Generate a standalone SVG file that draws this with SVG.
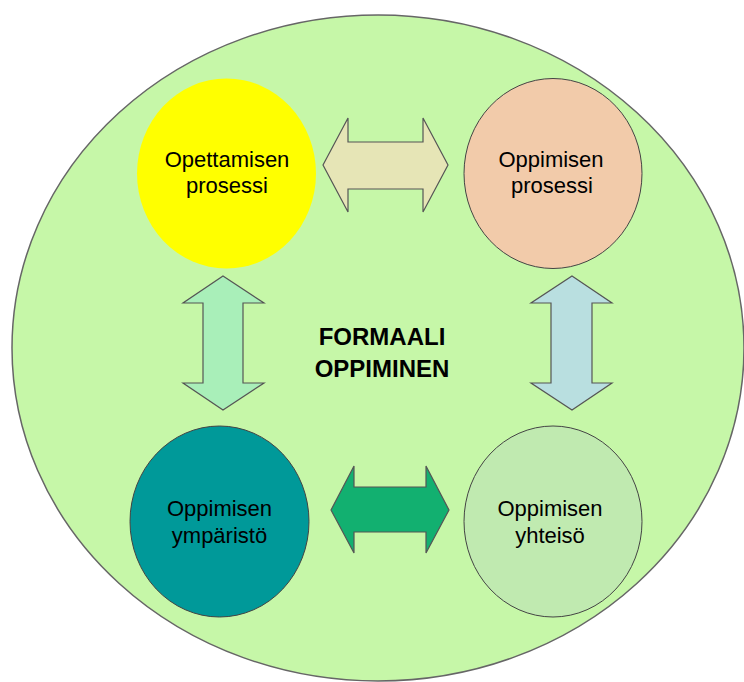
<svg xmlns="http://www.w3.org/2000/svg" width="744" height="682" viewBox="0 0 744 682">
<style>
.lbl{font-family:"Liberation Sans",Arial,sans-serif;font-size:22px;fill:#000;text-anchor:middle}
.title{font-family:"Liberation Sans",Arial,sans-serif;font-size:24px;font-weight:bold;fill:#000;text-anchor:middle}
.node{stroke:#444;stroke-width:1}
.arrow{stroke:#555;stroke-width:1.2;stroke-linejoin:miter}
</style>
<rect width="744" height="682" fill="#ffffff"/>
<g id="background">
<ellipse cx="378" cy="348" rx="366" ry="333" fill="#c6f7a8" stroke="#666" stroke-width="1.5"/>
<text class="title" x="382" y="345">FORMAALI</text>
<text class="title" x="382" y="377">OPPIMINEN</text>
</g>
<g id="connectors">
<polygon class="arrow" fill="#e6e5b6" points="323,165 348,118 348,142 423,142 423,118 448,165 423,212 423,189 348,189 348,212"/>
<polygon class="arrow" fill="#12b070" stroke="#2d5a3a" points="331,510 354,466 354,487 426,487 426,466 449,510 426,553 426,532 354,532 354,553"/>
<polygon class="arrow" fill="#a9efb9" points="223,276 264,303 243,303 243,383 264,383 223,410 183,383 203,383 203,303 183,303"/>
<polygon class="arrow" fill="#b9dfe0" points="572,276 612,303 592,303 592,383 612,383 572,410 531,383 551,383 551,303 531,303"/>
</g>
<g id="opettamisen-prosessi">
<ellipse cx="226.5" cy="173.5" rx="89.5" ry="95" fill="#ffff00"/>
<text class="lbl" x="227" y="167">Opettamisen</text>
<text class="lbl" x="227" y="193">prosessi</text>
</g>
<g id="oppimisen-prosessi">
<ellipse class="node" cx="553" cy="173.5" rx="89" ry="95" fill="#f2cbaa"/>
<text class="lbl" x="551" y="167">Oppimisen</text>
<text class="lbl" x="552" y="193">prosessi</text>
</g>
<g id="oppimisen-ymparisto">
<ellipse class="node" cx="219.5" cy="521.5" rx="89.5" ry="95.5" fill="#009999"/>
<text class="lbl" x="219.5" y="516">Oppimisen</text>
<text class="lbl" x="219.5" y="543">ympäristö</text>
</g>
<g id="oppimisen-yhteiso">
<ellipse class="node" cx="553" cy="521.5" rx="89" ry="95.5" fill="#c0eab0"/>
<text class="lbl" x="550" y="516">Oppimisen</text>
<text class="lbl" x="550" y="543">yhteisö</text>
</g>
</svg>
